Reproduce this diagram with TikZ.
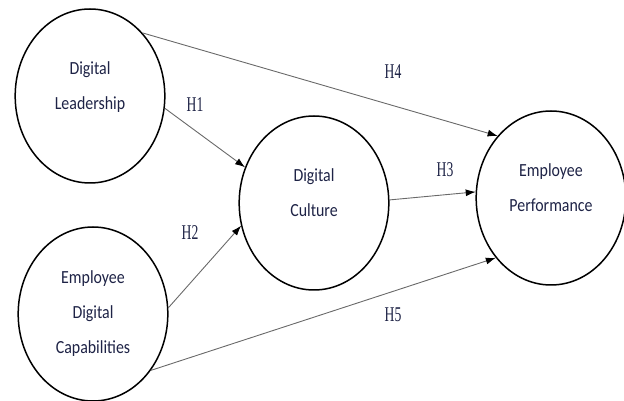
\documentclass[tikz,border=0pt]{standalone}
\usepackage{fontspec}
\setmainfont{Carlito}
\newfontfamily\hypfont{Liberation Serif}
\usetikzlibrary{arrows.meta}
\definecolor{txtblue}{RGB}{30,35,70}
\definecolor{linegray}{RGB}{105,105,105}

\begin{document}
\begin{tikzpicture}[x=1pt,y=1pt,
  construct/.style={circle,draw=black,line width=1.5pt,minimum size=174pt,inner sep=0pt,
    xscale=0.86,transform shape,align=center,text=txtblue,
    font=\fontsize{18.5}{35}\selectfont},
  hyp/.style={text=txtblue,xscale=0.65,transform shape,
    font=\hypfont\fontsize{21}{21}\selectfont},
  link/.style={draw=linegray,line width=0.9pt,
    -{Latex[length=10pt,width=7pt,color=black]}}]
  \useasboundingbox (0,0) rectangle (624,401);
  \coordinate (DL) at (90,305); \coordinate (EDC) at (93,87);
  \coordinate (DC) at (314,198); \coordinate (EP) at (551,203);
  \coordinate (H1) at (195,296); \coordinate (H2) at (190,168);
  \coordinate (H3) at (445,231); \coordinate (H4) at (393,329);
  \coordinate (H5) at (393,86);
  \node[construct,text depth=20pt] (dl) at (DL) {Digital\\Leadership};
  \node[construct] (edc) at (EDC) {Employee\\Digital\\Capabilities};
  \node[construct,text depth=20pt] (dc) at (DC) {Digital\\Culture};
  \node[construct,text depth=20pt] (ep) at (EP) {Employee\\Performance};
  \draw[link] (dl.46) -- (ep.135);
  \draw[link] (dl.-8) -- (dc.156);
  \draw[link] (edc.4) -- (dc.195);
  \draw[link] (dc.2) -- (ep.176);
  \draw[link] (edc.-40) -- (ep.223);
  \node[hyp] (h1) at (H1) {H1}; \node[hyp] (h2) at (H2) {H2};
  \node[hyp] (h3) at (H3) {H3}; \node[hyp] (h4) at (H4) {H4};
  \node[hyp] (h5) at (H5) {H5};
\end{tikzpicture}
\end{document}
